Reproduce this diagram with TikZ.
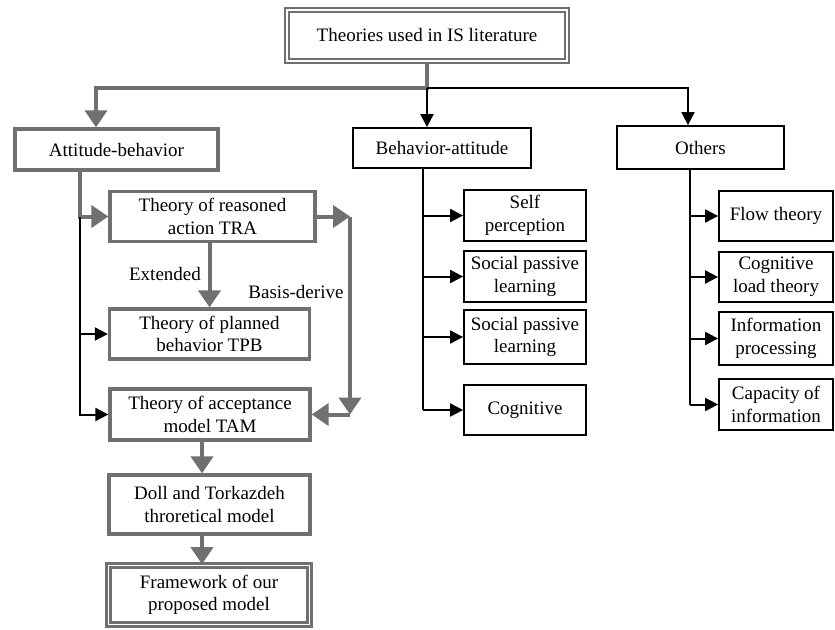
\documentclass[tikz,border=0pt]{standalone}
\usepackage{fontspec}
\setmainfont{Liberation Serif}
\usepackage{tikz}
\usetikzlibrary{arrows.meta}
\definecolor{boxgray}{RGB}{112,112,112}

\begin{document}
\begin{tikzpicture}[x=1pt,y=-1pt,>={Triangle[length=13pt,width=13pt]},font=\fontsize{19}{22.5}\selectfont]
    \tikzstyle{gbox}=[draw=boxgray, line width=3.3pt, align=center, inner sep=1pt]
    \tikzstyle{gdbox}=[draw=boxgray, double=white, double distance=1.5pt, line width=2.7pt, align=center, inner sep=1pt]
    \tikzstyle{bbox}=[draw=black, line width=1.8pt, align=center, inner sep=1pt]
    \tikzstyle{gline}=[draw=boxgray, line width=4pt]
    \tikzstyle{garrow}=[gline, -{Triangle[length=17pt,width=22pt]}]
    \tikzstyle{bline}=[draw=black, line width=2pt]
    \tikzstyle{barrow}=[bline, ->]
    \useasboundingbox (0,0) rectangle (835,629);

    % top and the three groups
    \node [gdbox, minimum width=280pt, minimum height=51pt] (top) at (427, 35.5) {Theories used in IS literature};
    \node [gbox, minimum width=203pt, minimum height=41pt] (ab) at (116.5, 149.5) {Attitude-behavior};
    \node [bbox, minimum width=178pt, minimum height=40pt] (ba) at (442, 148) {Behavior-attitude};
    \node [bbox, minimum width=167pt, minimum height=43pt] (oth) at (700.5, 147.5) {Others};

    % attitude-behavior column
    \node [gbox, minimum width=205pt, minimum height=50pt] (tra) at (212.5, 216.5) {Theory of reasoned\\ action TRA};
    \node [gbox, minimum width=200pt, minimum height=50pt] (tpb) at (209.5, 334) {Theory of planned\\ behavior TPB};
    \node [gbox, minimum width=200pt, minimum height=51pt] (tam) at (210, 414.5) {Theory of acceptance\\ model TAM};
    \node [gbox, minimum width=201pt, minimum height=59pt] (doll) at (209.5, 504.5) {Doll and Torkazdeh\\ throretical model};
    \node [gdbox, minimum width=201pt, minimum height=59pt] (fw) at (209, 595) {Framework of our\\ proposed model};
    \node (ext) at (165, 274) {Extended};
    \node [anchor=east] (bd) at (347, 292) {Basis-derive};

    % behavior-attitude column
    \node [bbox, minimum width=122pt, minimum height=51pt] (sp) at (525, 215.5) {Self\\ perception};
    \node [bbox, minimum width=122pt, minimum height=51pt] (spl1) at (525, 276.5) {Social passive\\ learning};
    \node [bbox, minimum width=122pt, minimum height=54pt] (spl2) at (525, 337) {Social passive\\ learning};
    \node [bbox, minimum width=122pt, minimum height=50pt] (cog) at (525, 410) {Cognitive};

    % others column
    \node [bbox, minimum width=114pt, minimum height=50pt] (flow) at (776, 216) {Flow theory};
    \node [bbox, minimum width=114pt, minimum height=50pt] (clt) at (776, 277) {Cognitive\\ load theory};
    \node [bbox, minimum width=114pt, minimum height=53pt] (ip) at (776, 338.5) {Information\\ processing};
    \node [bbox, minimum width=114pt, minimum height=51pt] (cap) at (776, 404.5) {Capacity of\\ information};

    \coordinate (j) at (427, 88);
    \coordinate (jl) at (96, 88);
    \coordinate (jr) at (688, 88);
    \coordinate (ax) at (80, 0);
    \coordinate (bx) at (350, 0);
    \coordinate (cx) at (202, 0);
    \coordinate (mx) at (423, 0);
    \coordinate (ox) at (690, 0);

    % top split
    \draw [garrow] (top.south) |- (jl) -- (jl |- ab.north);
    \draw [barrow] (j) -- (j |- ba.north);
    \draw [barrow] (j) -- (jr) -- (jr |- oth.north);

    % attitude-behavior links
    \draw [garrow] (ab.south -| ax) |- (tra.west);
    \draw [barrow] (ax |- tra.west) |- (tpb.west);
    \draw [barrow] (ax |- tra.west) |- (tam.west);
    \draw [garrow] (tra.south -| tpb.north) -- (tpb.north);
    \draw [garrow] (tra.east) -- (bx |- tra.east);
    \draw [garrow] (bx |- tra.east) -- (bx |- tam.east);
    \draw [garrow] (bx |- tam.east) -- (tam.east);
    \draw [garrow] (tam.south -| cx) -- (doll.north -| cx);
    \draw [garrow] (doll.south -| cx) -- (fw.north -| cx);

    % behavior-attitude links
    \draw [bline] (ba.south -| mx) -- (mx |- cog.west);
    \draw [barrow] (mx |- sp.west) -- (sp.west);
    \draw [barrow] (mx |- spl1.west) -- (spl1.west);
    \draw [barrow] (mx |- spl2.west) -- (spl2.west);
    \draw [barrow] (mx |- cog.west) -- (cog.west);

    % others links
    \draw [bline] (oth.south -| ox) -- (ox |- cap.west);
    \draw [barrow] (ox |- flow.west) -- (flow.west);
    \draw [barrow] (ox |- clt.west) -- (clt.west);
    \draw [barrow] (ox |- ip.west) -- (ip.west);
    \draw [barrow] (ox |- cap.west) -- (cap.west);
\end{tikzpicture}
\end{document}
